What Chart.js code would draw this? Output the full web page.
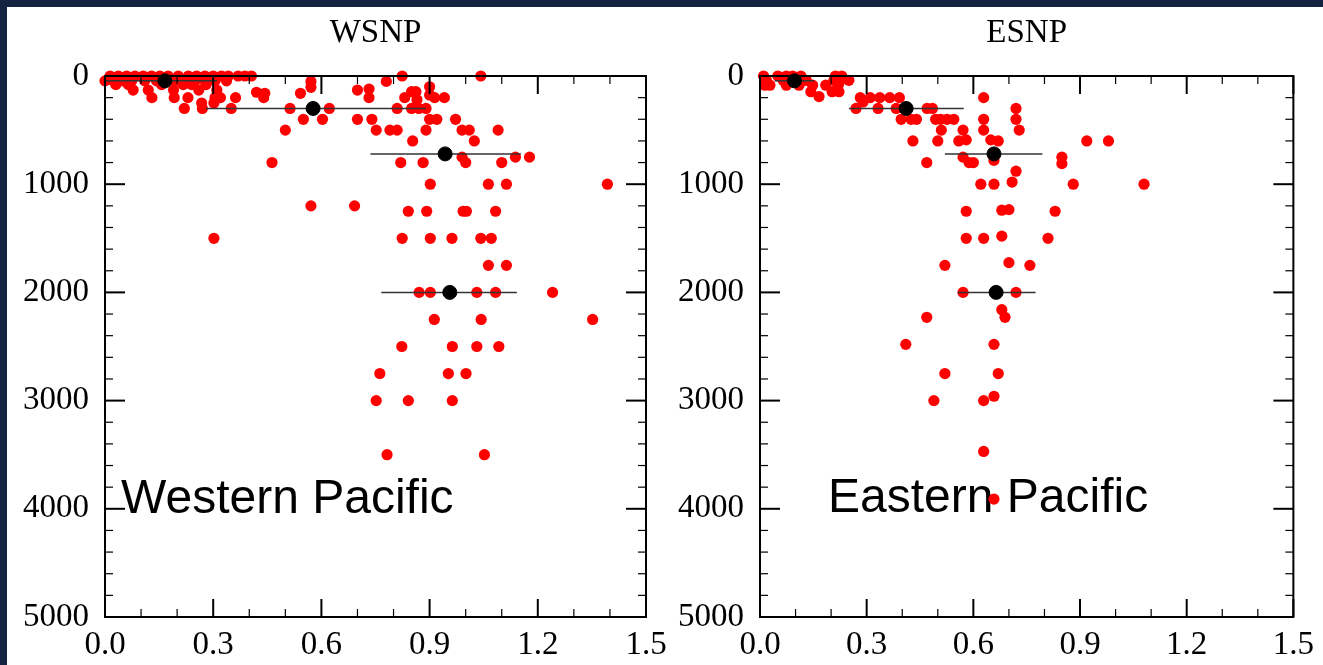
<!DOCTYPE html>
<html>
<head>
<meta charset="utf-8">
<script src="https://cdn.jsdelivr.net/npm/chart.js@4.4.1/dist/chart.umd.min.js"></script>
<style>
  html, body { margin: 0; padding: 0; }
  body { width: 1323px; height: 665px; background: #12243f; position: relative; overflow: hidden; }
  #sheet { position: absolute; left: 7px; top: 7px; right: 0; bottom: 0; background: #fff; }
  canvas { position: absolute; top: 0; }
  #wsnp { left: 0; }
  #esnp { left: 660px; }
</style>
</head>
<body>
<div id="sheet"></div>
<canvas id="wsnp" width="690" height="665"></canvas>
<canvas id="esnp" width="663" height="665"></canvas>
<script>
"use strict";

// x ticks and y ticks
const xTicks = [0.0, 0.3, 0.6, 0.9, 1.2, 1.5];
const depthTicks = [0, 1000, 2000, 3000, 4000, 5000];

// WSNP samples: value and depth (m)
const wsnpX = [
  0.014, 0.037, 0.06, 0.083, 0.106, 0.129, 0.152, 0.175, 0.203, 0.231, 0.254, 0.277, 0.30, 0.323, 0.342, 0.369, 0.388, 0.406, 0.824, 1.042,
  0.0, 0.023, 0.05, 0.074, 0.11, 0.143, 0.194, 0.226, 0.25, 0.277, 0.305, 0.337, 0.571, 0.78,
  0.03, 0.065, 0.157, 0.217, 0.24, 0.28, 0.9, 0.571,
  0.078, 0.12, 0.19, 0.26, 0.31, 0.42, 0.70, 0.732, 0.85, 0.862,
  0.443, 0.542, 0.9,
  0.13, 0.192, 0.23, 0.305, 0.32, 0.362, 0.44, 0.732, 0.831, 0.914, 0.941, 0.865,
  0.268, 0.302,
  0.22, 0.27, 0.35, 0.513, 0.622, 0.81, 0.85, 0.87, 0.89,
  0.55, 0.603, 0.70, 0.74, 0.90, 0.92, 0.972,
  0.50, 0.752, 0.79, 0.81, 0.89, 0.99, 1.01, 1.09,
  0.853, 1.024,
  0.99, 1.138, 1.177,
  0.463, 0.82, 0.882, 1.0, 1.1,
  0.902, 1.063, 1.113, 1.393,
  0.571, 0.692,
  0.841, 0.892, 0.993, 1.002, 1.083,
  0.302, 0.824, 0.902, 0.962, 1.042, 1.071,
  1.063, 1.113,
  0.871, 0.902, 1.031, 1.083, 1.241,
  0.913, 1.043, 1.352,
  0.823, 0.963, 1.031, 1.092,
  0.762, 0.952, 1.001,
  0.752, 0.841, 0.963,
  0.782, 1.052
];
const wsnpDepth = [
  0, 0, 0, 0, 0, 0, 0, 0, 0, 0, 0, 0, 0, 0, 0, 0, 0, 0, 0, 0,
  45, 45, 45, 45, 45, 45, 45, 45, 45, 45, 45, 45, 50, 50,
  80, 80, 80, 80, 80, 80, 100, 105,
  130, 130, 130, 130, 130, 150, 130, 120, 145, 145,
  160, 160, 175,
  200, 200, 200, 200, 200, 200, 200, 200, 200, 200, 200, 220,
  250, 250,
  300, 300, 300, 300, 300, 300, 300, 300, 300,
  400, 400, 400, 400, 400, 400, 400,
  500, 500, 500, 500, 500, 500, 500, 500,
  600, 600,
  750, 750, 750,
  800, 800, 800, 800, 800,
  1000, 1000, 1000, 1000,
  1200, 1200,
  1250, 1250, 1250, 1250, 1250,
  1500, 1500, 1500, 1500, 1500, 1500,
  1750, 1750,
  2000, 2000, 2000, 2000, 2000,
  2250, 2250, 2250,
  2500, 2500, 2500, 2500,
  2750, 2750, 2750,
  3000, 3000, 3000,
  3500, 3500
];
const wsnpMeanX = [0.166, 0.577, 0.943, 0.956];
const wsnpMeanDepth = [45, 300, 720, 2000];
const wsnpBarLo = [0.0, 0.28, 0.736, 0.766];
const wsnpBarHi = [0.31, 0.89, 1.153, 1.142];

// ESNP samples
const esnpX = [
  0.01, 0.05, 0.074, 0.092, 0.115, 0.212, 0.23,
  0.018, 0.065, 0.13, 0.208, 0.226, 0.25,
  0.014, 0.028, 0.074, 0.11, 0.148, 0.185, 0.22,
  0.143, 0.203, 0.222,
  0.166,
  0.282, 0.31, 0.337, 0.365, 0.392, 0.629,
  0.29,
  0.27, 0.332, 0.383, 0.47, 0.485, 0.72,
  0.397, 0.425, 0.44, 0.494, 0.508, 0.526, 0.545, 0.629, 0.72,
  0.51, 0.571, 0.629, 0.729,
  0.43, 0.50, 0.559, 0.58, 0.649, 0.67, 0.919, 0.98,
  0.571, 0.849,
  0.469, 0.588, 0.6, 0.658, 0.849,
  0.72,
  0.621, 0.658, 0.709, 0.881, 1.08,
  0.58, 0.68, 0.70, 0.83,
  0.58, 0.629, 0.68, 0.81,
  0.52, 0.70, 0.759,
  0.571, 0.72,
  0.68, 0.689, 0.469,
  0.41, 0.658,
  0.52, 0.67,
  0.489, 0.629, 0.658,
  0.629,
  0.658
];
const esnpDepth = [
  0, 0, 0, 0, 0, 0, 0,
  40, 40, 40, 40, 40, 40,
  85, 85, 85, 85, 85, 85, 85,
  145, 145, 145,
  190,
  200, 200, 200, 200, 200, 200,
  240,
  300, 300, 300, 300, 300, 300,
  400, 400, 400, 400, 400, 400, 400, 400, 400,
  500, 500, 500, 500,
  600, 600, 600, 590, 590, 600, 600, 600,
  750, 750,
  800, 800, 800, 780, 810,
  880,
  1000, 1000, 980, 1000, 1000,
  1250, 1240, 1235, 1250,
  1500, 1500, 1480, 1500,
  1750, 1725, 1750,
  2000, 2000,
  2160, 2230, 2230,
  2480, 2480,
  2750, 2750,
  3000, 3000, 2960,
  3470,
  3910
];
const esnpMeanX = [0.097, 0.411, 0.658, 0.664];
const esnpMeanDepth = [45, 300, 720, 2000];
const esnpBarLo = [0.042, 0.25, 0.52, 0.556];
const esnpBarHi = [0.152, 0.573, 0.794, 0.775];

const serif = "'Liberation Serif', 'Times New Roman', serif";

// frame with inward ticks on all four sides
const framePlugin = {
  id: "frame",
  afterDatasetsDraw(chart) {
    const { ctx, chartArea: a, scales: { x, y } } = chart;
    const seg = (x1, y1, x2, y2) => {
      ctx.beginPath();
      ctx.moveTo(x1, y1);
      ctx.lineTo(x2, y2);
      ctx.stroke();
    };
    ctx.save();
    ctx.strokeStyle = "#000";
    for (let i = 0; i <= 15; i++) {
      const px = x.getPixelForValue(i / 10);
      const major = i % 3 === 0;
      const len = major ? 18 : 8;
      ctx.lineWidth = major ? 2 : 1.2;
      seg(px, a.top, px, a.top + len);
      seg(px, a.bottom, px, a.bottom - len);
    }
    for (let d = 0; d <= 5000; d += 200) {
      const py = y.getPixelForValue(d);
      const major = d % 1000 === 0;
      const len = major ? 20 : 8;
      ctx.lineWidth = major ? 2 : 1.2;
      seg(a.left, py, a.left + len, py);
      seg(a.right, py, a.right - len, py);
    }
    ctx.lineWidth = 2;
    ctx.strokeRect(a.left, a.top, a.right - a.left, a.bottom - a.top);
    ctx.restore();
  },
};

// big region name written inside the plot
const regionLabelPlugin = {
  id: "regionLabel",
  beforeDatasetsDraw(chart, args, opts) {
    const { ctx, chartArea: a } = chart;
    ctx.save();
    ctx.fillStyle = "#000";
    ctx.font = "48px 'Liberation Sans', Arial, sans-serif";
    ctx.textAlign = "left";
    ctx.textBaseline = "alphabetic";
    ctx.fillText(opts.text, a.left + opts.dx, opts.baseline);
    ctx.restore();
  },
};

function makePanel(canvasId, title, xs, depths, meanX, meanDepth, barLo, barHi, yWidth, padRight, label) {
  const bars = barLo.map((lo, i) => ({
    type: "line",
    data: [{ x: lo, y: meanDepth[i] }, { x: barHi[i], y: meanDepth[i] }],
    borderColor: "#333",
    borderWidth: 1.5,
    pointRadius: 0,
    clip: false,
    order: 1,
  }));

  const options = {
    type: "scatter",
    data: {
      datasets: [
        {
          label: "mean",
          data: meanX.map((v, i) => ({ x: v, y: meanDepth[i] })),
          backgroundColor: "#000",
          borderColor: "#000",
          pointRadius: 7,
          clip: false,
          order: 0,
        },
        ...bars,
        {
          label: "samples",
          data: xs.map((v, i) => ({ x: v, y: depths[i] })),
          backgroundColor: "#ff0000",
          borderColor: "#ff0000",
          borderWidth: 0,
          pointRadius: 5.6,
          clip: false,
          order: 2,
        },
      ],
    },
    options: {
      responsive: false,
      animation: false,
      layout: { padding: { top: 14, right: padRight, bottom: 0, left: 0 } },
      plugins: {
        legend: { display: false },
        tooltip: { enabled: false },
        title: {
          display: true,
          text: title,
          fullSize: false,
          color: "#000",
          font: { family: serif, size: 33, weight: "normal", lineHeight: 1.2 },
          padding: { top: 0, bottom: 22.4 },
        },
        regionLabel: label,
      },
      scales: {
        x: {
          type: "linear",
          min: 0,
          max: 1.5,
          afterFit: (s) => { s.height = 48; },
          afterBuildTicks: (s) => { s.ticks = xTicks.map((v) => ({ value: v })); },
          grid: { display: false, drawTicks: false },
          border: { display: false },
          ticks: {
            padding: 9,
            color: "#000",
            autoSkip: false,
            maxRotation: 0,
            font: { family: serif, size: 33 },
            callback: (v) => Number(v).toFixed(1),
          },
        },
        y: {
          type: "linear",
          min: 0,
          max: 5000,
          reverse: true,
          afterFit: (s) => { s.width = yWidth; },
          afterBuildTicks: (s) => { s.ticks = depthTicks.map((v) => ({ value: v })); },
          grid: { display: false, drawTicks: false },
          border: { display: false },
          ticks: {
            padding: 16,
            color: "#000",
            autoSkip: false,
            font: { family: serif, size: 33 },
            callback: (v) => String(v),
          },
        },
      },
    },
    plugins: [regionLabelPlugin, framePlugin],
  };
  return new Chart(document.getElementById(canvasId), options);
}

makePanel("wsnp", "WSNP", wsnpX, wsnpDepth, wsnpMeanX, wsnpMeanDepth, wsnpBarLo, wsnpBarHi,
  105, 44, { text: "Western Pacific", dx: 16, baseline: 513 });
makePanel("esnp", "ESNP", esnpX, esnpDepth, esnpMeanX, esnpMeanDepth, esnpBarLo, esnpBarHi,
  100, 20, { text: "Eastern Pacific", dx: 68, baseline: 512 });
</script>
</body>
</html>
